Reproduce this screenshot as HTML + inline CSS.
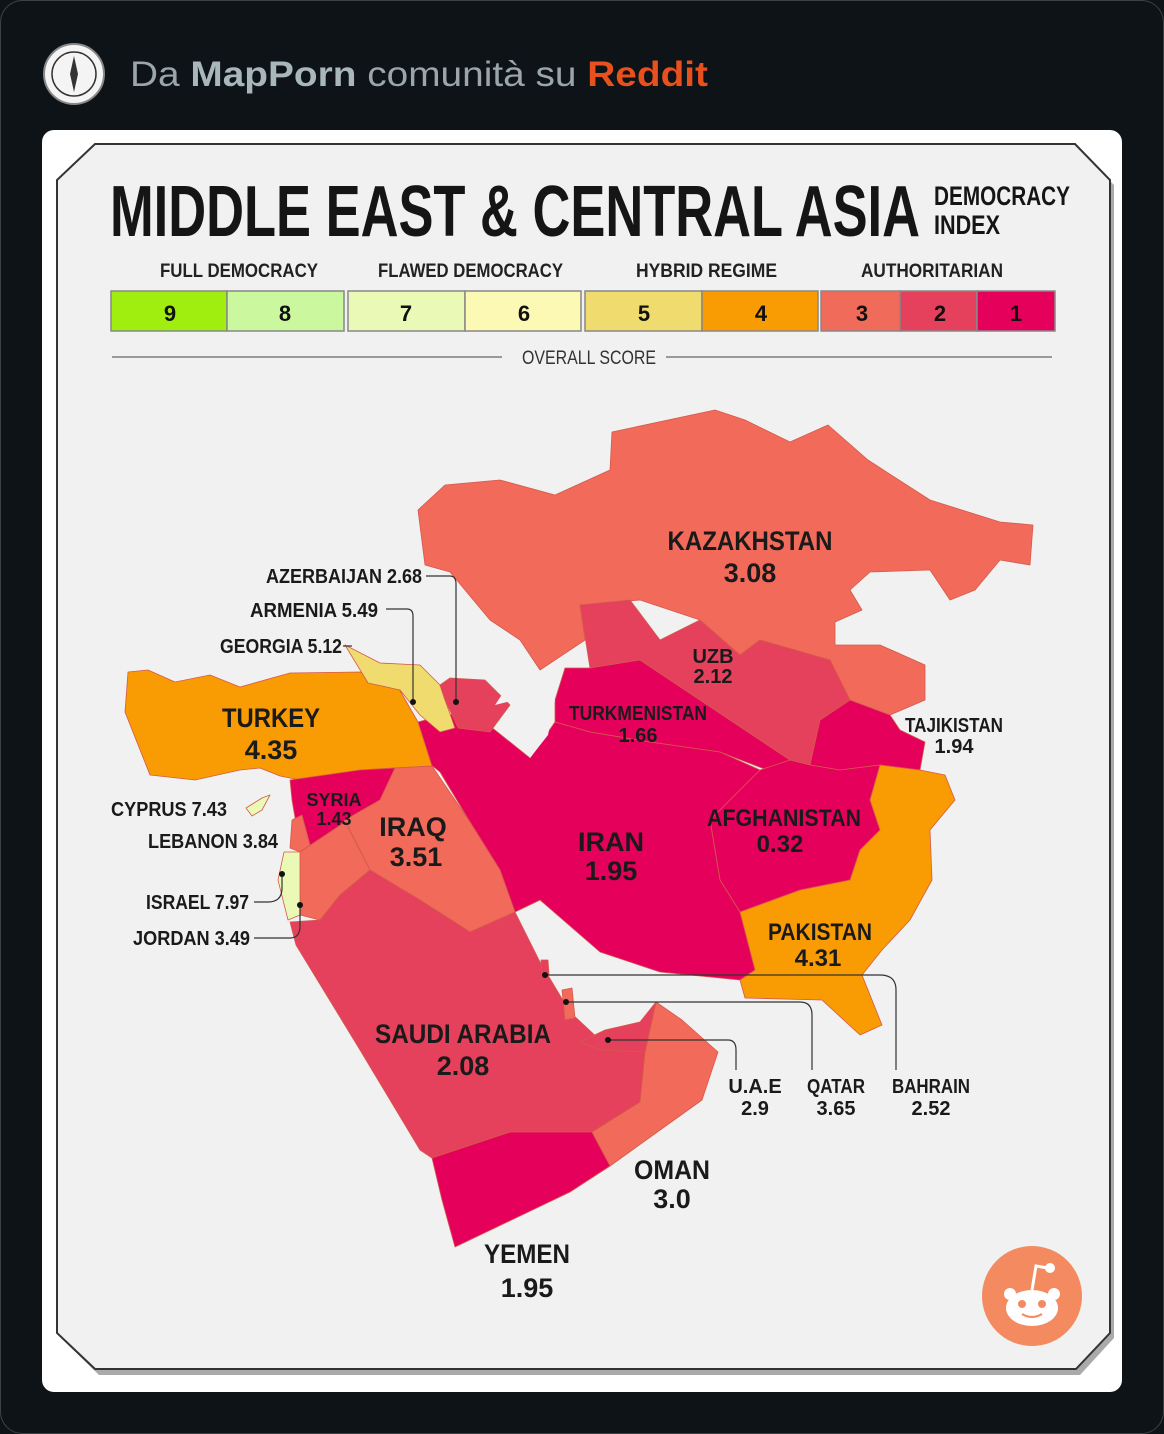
<!DOCTYPE html>
<html><head><meta charset="utf-8"><style>
html,body{margin:0;padding:0;background:#0d1316;}
body{width:1164px;height:1434px;overflow:hidden;position:relative;font-family:"Liberation Sans",sans-serif;}
</style></head><body>
<svg width="1164" height="1434" viewBox="0 0 1164 1434" xmlns="http://www.w3.org/2000/svg" style="position:absolute;left:0;top:0">
<rect x="0.5" y="0.5" width="1163" height="1433" rx="22" fill="#0d1316" stroke="#3a4246"/>
<circle cx="74" cy="74" r="30" fill="#f4f4f4" stroke="#888" stroke-width="2"/>
<circle cx="74" cy="74" r="22" fill="none" stroke="#333" stroke-width="1.5"/>
<path d="M74 56 L78 74 L74 92 L70 74Z" fill="#333"/>
<text x="130" y="86" font-size="35" fill="#9aa6ab" font-family="Liberation Sans, sans-serif" textLength="578" lengthAdjust="spacingAndGlyphs">Da <tspan font-weight="bold" fill="#a9b6bb">MapPorn</tspan> comunità su <tspan font-weight="bold" fill="#e8501e">Reddit</tspan></text>
<rect x="42" y="130" width="1080" height="1262" rx="12" fill="#ffffff"/>
<polygon points="97,146 1077,146 1112,182 1112,1335 1078,1372 97,1372 59,1335 59,182" fill="#555" transform="translate(2,3)" opacity="0.5"/>
<polygon points="95,144 1075,144 1110,180 1110,1333 1076,1369 95,1369 57,1333 57,180" fill="#f1f1f1" stroke="#333" stroke-width="2"/>
<g font-family="Liberation Sans Narrow, Liberation Sans, sans-serif" font-weight="bold">
<text x="110" y="236" font-size="72" fill="#151515" textLength="810" lengthAdjust="spacingAndGlyphs">MIDDLE EAST &amp; CENTRAL ASIA</text>
<text x="934" y="205" font-size="27" fill="#151515" textLength="136" lengthAdjust="spacingAndGlyphs">DEMOCRACY</text>
<text x="934" y="234" font-size="27" fill="#151515" textLength="66" lengthAdjust="spacingAndGlyphs">INDEX</text>
<g font-size="19" fill="#222">
<text x="160" y="277" textLength="158" lengthAdjust="spacingAndGlyphs">FULL DEMOCRACY</text>
<text x="378" y="277" textLength="185" lengthAdjust="spacingAndGlyphs">FLAWED DEMOCRACY</text>
<text x="636" y="277" textLength="141" lengthAdjust="spacingAndGlyphs">HYBRID REGIME</text>
<text x="861" y="277" textLength="142" lengthAdjust="spacingAndGlyphs">AUTHORITARIAN</text>
</g>
<g stroke="#888" stroke-width="1.5">
<rect x="111" y="291" width="116" height="40" fill="#9fee10"/>
<rect x="227" y="291" width="117" height="40" fill="#cbf79f"/>
<rect x="348" y="291" width="117" height="40" fill="#eaf9b6"/>
<rect x="465" y="291" width="116" height="40" fill="#fbf9b4"/>
<rect x="585" y="291" width="117" height="40" fill="#f0dc6e"/>
<rect x="702" y="291" width="116" height="40" fill="#f99b02"/>
<rect x="821" y="291" width="79" height="40" fill="#f16b5a"/>
<rect x="900" y="291" width="77" height="40" fill="#e5405c"/>
<rect x="977" y="291" width="78" height="40" fill="#e4005b"/>
</g>
<g font-size="22" fill="#111" text-anchor="middle">
<text x="170" y="321">9</text><text x="285" y="321">8</text><text x="406" y="321">7</text><text x="524" y="321">6</text><text x="644" y="321">5</text><text x="761" y="321">4</text><text x="862" y="321">3</text><text x="940" y="321">2</text><text x="1016" y="321">1</text>
</g>
<line x1="112" y1="357" x2="502" y2="357" stroke="#444" stroke-width="1"/>
<line x1="666" y1="357" x2="1052" y2="357" stroke="#444" stroke-width="1"/>
<text x="522" y="364" font-size="19" fill="#333" textLength="134" lengthAdjust="spacingAndGlyphs" font-weight="normal">OVERALL SCORE</text>
</g>
<g stroke="#d45a4c" stroke-width="0.8" stroke-linejoin="round">
<polygon fill="#f16a5a" points="612,432 715,410 745,420 790,442 828,425 868,460 930,500 1000,522 1033,525 1030,565 1000,560 975,590 950,600 930,570 870,572 850,590 862,610 835,622 835,645 880,645 925,665 925,700 890,715 850,700 830,660 760,640 740,655 700,620 640,600 580,605 585,640 540,670 520,640 490,620 450,572 425,565 418,510 445,485 500,480 555,495 610,470"/>
<polygon fill="#e5405c" points="580,605 630,600 660,640 700,620 740,655 760,640 830,660 850,700 820,720 810,765 790,760 760,740 700,700 640,660 590,668"/>
<polygon fill="#e4005b" points="565,668 590,668 640,660 700,700 760,740 790,760 780,775 720,752 650,742 590,732 555,722 555,700"/>
<polygon fill="#e4005b" points="820,720 850,700 890,715 900,730 925,742 920,770 880,765 840,770 810,765"/>
<polygon fill="#e4005b" points="760,770 790,760 810,765 840,770 880,765 870,800 880,830 860,850 850,880 800,890 740,912 720,880 710,820 740,790"/>
<polygon fill="#e4005b" points="418,722 440,716 470,712 495,730 530,758 555,722 590,732 650,742 720,752 760,770 740,790 710,820 720,880 740,912 755,970 740,980 660,972 600,952 540,900 515,912 500,870 470,822 440,772 425,760"/>
<polygon fill="#f99b02" points="880,765 920,770 945,775 955,800 930,830 932,880 910,920 882,950 862,975 882,1025 860,1035 822,1000 745,998 740,980 755,970 740,912 800,890 850,880 860,850 880,830 870,800"/>
<polygon fill="#f99b02" points="128,672 148,670 175,682 210,675 240,687 290,673 360,672 395,682 418,722 432,766 395,768 360,770 300,780 280,776 260,768 240,770 195,780 150,775 125,712"/>
<polygon fill="#f0dc6e" points="345,645 380,663 420,665 440,685 445,700 455,728 440,732 420,715 400,690 368,683"/>
<polygon fill="#e5405c" points="440,685 450,678 485,680 510,705 490,732 458,728 445,700"/>
<polygon fill="#e4005b" points="290,780 360,770 395,768 380,800 345,820 310,860 298,835 292,800"/>
<polygon fill="#f16a5a" points="395,768 432,766 470,822 500,870 515,912 470,932 420,900 370,870 345,820 380,800"/>
<polygon fill="#f16a5a" points="292,820 302,815 310,845 300,852 290,848"/>
<polygon fill="#f16a5a" points="300,852 345,822 370,870 340,895 320,920 300,915"/>
<polygon fill="#eaf9b6" points="284,852 300,852 300,915 288,920 278,880"/>
<polygon fill="#e5405c" points="290,922 320,920 340,895 370,870 420,900 470,932 515,912 540,962 570,1012 600,1040 645,1052 640,1102 592,1132 510,1132 432,1158 420,1150 360,1050 296,945"/>
<polygon fill="#e4005b" points="432,1158 510,1132 592,1132 610,1166 570,1192 455,1247 442,1200"/>
<polygon fill="#f16a5a" points="592,1132 640,1102 645,1052 656,1002 682,1020 718,1052 702,1100 610,1166"/>
<polygon fill="#e5405c" points="580,1042 605,1030 640,1022 656,1002 645,1052 600,1050"/>
<polygon fill="#f16a5a" points="562,990 572,988 575,1018 565,1020"/>
<polygon fill="#e5405c" points="541,960 548,960 549,975 542,975"/>
<polygon fill="#eaf9b6" points="246,808 262,798 270,795 262,810 252,816"/>
</g>
<polygon fill="#f1f1f1" points="495,705 515,700 530,758 548,735 555,700 520,685 505,690"/>
<g fill="none" stroke="#333" stroke-width="1.2">
<path d="M426 576 H450 Q456 576 456 584 V702"/>
<path d="M386 609 H407 Q413 609 413 616 V702"/>
<path d="M343 646 H352"/>
<path d="M254 902 H268 Q282 902 282 888 V874"/>
<path d="M254 938 H290 Q300 938 300 926 V905"/>
<path d="M545 975 H880 Q896 975 896 990 V1070"/>
<path d="M566 1002 H800 Q812 1002 812 1015 V1070"/>
<path d="M608 1040 H728 Q736 1040 736 1050 V1070"/>
</g>
<g fill="#111"><circle cx="456" cy="702" r="3"/><circle cx="413" cy="702" r="3"/><circle cx="282" cy="874" r="3"/><circle cx="300" cy="905" r="3"/><circle cx="545" cy="975" r="3"/><circle cx="566" cy="1002" r="3"/><circle cx="608" cy="1040" r="3"/></g>
<g font-family="Liberation Sans Narrow, Liberation Sans, sans-serif" font-weight="bold" fill="#1a1a1a" text-anchor="middle" lengthAdjust="spacingAndGlyphs">
<text x="750" y="550" font-size="27" textLength="165" lengthAdjust="spacingAndGlyphs">KAZAKHSTAN</text><text x="750" y="582" font-size="27">3.08</text>
<text x="271" y="727" font-size="27" textLength="98" lengthAdjust="spacingAndGlyphs">TURKEY</text><text x="271" y="759" font-size="27">4.35</text>
<text x="713" y="663" font-size="20">UZB</text><text x="713" y="683" font-size="20">2.12</text>
<text x="638" y="720" font-size="20" textLength="138" lengthAdjust="spacingAndGlyphs">TURKMENISTAN</text><text x="638" y="742" font-size="20">1.66</text>
<text x="954" y="732" font-size="20" textLength="98" lengthAdjust="spacingAndGlyphs">TAJIKISTAN</text><text x="954" y="753" font-size="20">1.94</text>
<text x="784" y="826" font-size="24" textLength="154" lengthAdjust="spacingAndGlyphs">AFGHANISTAN</text><text x="780" y="852" font-size="24">0.32</text>
<text x="611" y="851" font-size="27">IRAN</text><text x="611" y="880" font-size="27">1.95</text>
<text x="413" y="836" font-size="27">IRAQ</text><text x="416" y="866" font-size="27">3.51</text>
<text x="334" y="806" font-size="18">SYRIA</text><text x="334" y="825" font-size="18">1.43</text>
<text x="820" y="940" font-size="24" textLength="104" lengthAdjust="spacingAndGlyphs">PAKISTAN</text><text x="818" y="966" font-size="24">4.31</text>
<text x="463" y="1043" font-size="27" textLength="176" lengthAdjust="spacingAndGlyphs">SAUDI ARABIA</text><text x="463" y="1075" font-size="27">2.08</text>
<text x="672" y="1179" font-size="27" textLength="76" lengthAdjust="spacingAndGlyphs">OMAN</text><text x="672" y="1208" font-size="27">3.0</text>
<text x="527" y="1263" font-size="27" textLength="86" lengthAdjust="spacingAndGlyphs">YEMEN</text><text x="527" y="1297" font-size="27">1.95</text>
<text x="755" y="1093" font-size="20">U.A.E</text><text x="755" y="1115" font-size="20">2.9</text>
<text x="836" y="1093" font-size="20" textLength="58" lengthAdjust="spacingAndGlyphs">QATAR</text><text x="836" y="1115" font-size="20">3.65</text>
<text x="931" y="1093" font-size="20" textLength="78" lengthAdjust="spacingAndGlyphs">BAHRAIN</text><text x="931" y="1115" font-size="20">2.52</text>
</g>
<g font-family="Liberation Sans Narrow, Liberation Sans, sans-serif" font-weight="bold" fill="#1a1a1a" text-anchor="end" font-size="20">
<text x="422" y="583" textLength="156" lengthAdjust="spacingAndGlyphs">AZERBAIJAN 2.68</text>
<text x="378" y="617" textLength="128" lengthAdjust="spacingAndGlyphs">ARMENIA 5.49</text>
<text x="342" y="653" textLength="122" lengthAdjust="spacingAndGlyphs">GEORGIA 5.12</text>
<text x="227" y="816" textLength="116" lengthAdjust="spacingAndGlyphs">CYPRUS 7.43</text>
<text x="278" y="848" textLength="130" lengthAdjust="spacingAndGlyphs">LEBANON 3.84</text>
<text x="249" y="909" textLength="103" lengthAdjust="spacingAndGlyphs">ISRAEL 7.97</text>
<text x="250" y="945" textLength="117" lengthAdjust="spacingAndGlyphs">JORDAN 3.49</text>
</g>
<circle cx="1032" cy="1296" r="50" fill="#f38a60"/>
<ellipse cx="1032" cy="1308" rx="26" ry="18" fill="#fff"/>
<circle cx="1010" cy="1294" r="6" fill="#fff"/><circle cx="1054" cy="1294" r="6" fill="#fff"/>
<path d="M1032 1290 L1036 1266 L1048 1268" stroke="#fff" stroke-width="3" fill="none"/>
<circle cx="1050" cy="1268" r="5" fill="#fff"/>
<circle cx="1022" cy="1304" r="4" fill="#f38a60"/><circle cx="1042" cy="1304" r="4" fill="#f38a60"/>
<path d="M1022 1314 Q1032 1320 1042 1314" stroke="#f38a60" stroke-width="2" fill="none"/>
</svg>
</body></html>
